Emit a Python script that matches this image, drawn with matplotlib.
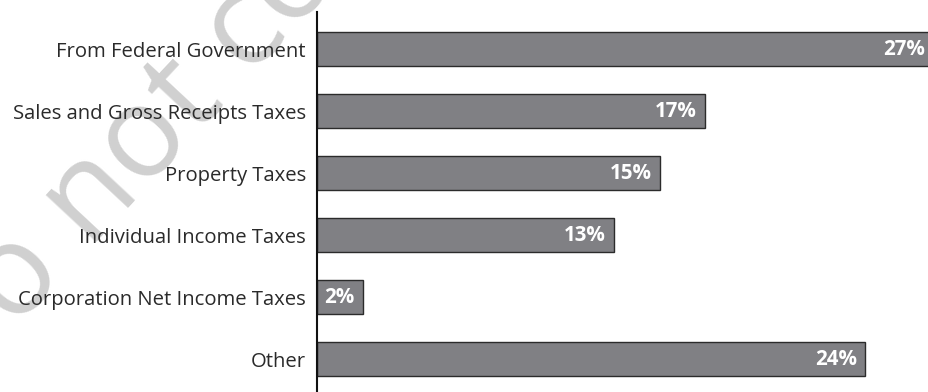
import matplotlib
matplotlib.use("Agg")
import matplotlib.pyplot as plt

categories = [
    "From Federal Government",
    "Sales and Gross Receipts Taxes",
    "Property Taxes",
    "Individual Income Taxes",
    "Corporation Net Income Taxes",
    "Other",
]
shares = [27, 17, 15, 13, 2, 24]
value_labels = ["27%", "17%", "15%", "13%", "2%", "24%"]

W, H, DPI = 929, 392, 100
fig = plt.figure(figsize=(W / DPI, H / DPI), dpi=DPI)
fig.patch.set_facecolor("white")

font = "Open Sans"

# watermark behind the chart
fig.text(-0.052, -0.015, "Do not copy", rotation=47, rotation_mode="anchor",
         ha="left", va="baseline", fontsize=92, family=font,
         color="#d0d0d0", zorder=-5)

ax_left = 317 / W
ax_top = (H - 12) / H
ax = fig.add_axes([ax_left, 0, 1 - ax_left, ax_top])
ax.patch.set_visible(False)

x_max = (W - 317) / 22.85
ax.set_xlim(0, x_max)
ax.set_ylim(len(categories) - 1 + 0.53, -0.597)

ypos = list(range(len(categories)))
ax.barh(ypos, shares, height=0.55, color="#808084", edgecolor="#2b2b2b",
        linewidth=1.0, zorder=2, clip_on=True)

for y, v, lab in zip(ypos, shares, value_labels):
    xr = min(v, x_max)
    ax.annotate(lab, xy=(xr, y), xytext=(-6 if v <= x_max else -3, 0),
                textcoords="offset points", ha="right", va="center",
                color="white", fontweight="bold", fontsize=14.8, family=font,
                zorder=3)

ax.set_yticks(ypos)
ax.set_yticklabels(categories, fontsize=14.6, family=font, color="#2a2a2a")
ax.tick_params(axis="y", length=0, pad=8)
ax.set_xticks([])

for s in ["top", "right", "bottom"]:
    ax.spines[s].set_visible(False)
ax.spines["left"].set_color("#111111")
ax.spines["left"].set_linewidth(1.5)

fig.savefig("out.png", dpi=DPI)
